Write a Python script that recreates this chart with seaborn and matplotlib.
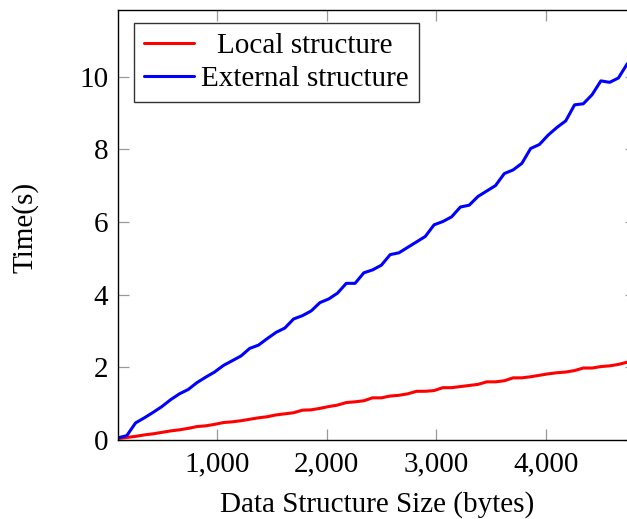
import pandas as pd
import matplotlib
matplotlib.use("Agg")
import matplotlib.pyplot as plt
import seaborn as sns

# Values
sizes = list(range(100, 4741, 80))
local_time = [0.04, 0.07, 0.10, 0.14, 0.17, 0.21, 0.25, 0.28, 0.32, 0.37,
              0.39, 0.43, 0.48, 0.50, 0.53, 0.57, 0.61, 0.64, 0.69, 0.72,
              0.75, 0.82, 0.83, 0.87, 0.92, 0.96, 1.03, 1.05, 1.08, 1.16,
              1.16, 1.21, 1.23, 1.27, 1.34, 1.34, 1.36, 1.44, 1.44, 1.47,
              1.50, 1.53, 1.60, 1.60, 1.63, 1.71, 1.71, 1.74, 1.78, 1.82,
              1.85, 1.87, 1.91, 1.98, 1.98, 2.02, 2.04, 2.08, 2.14]
external_time = [0.06, 0.12, 0.47, 0.61, 0.76, 0.92, 1.11, 1.27, 1.39, 1.58,
                 1.73, 1.87, 2.05, 2.18, 2.31, 2.52, 2.61, 2.79, 2.96, 3.08,
                 3.33, 3.42, 3.55, 3.78, 3.88, 4.04, 4.31, 4.31, 4.60, 4.68,
                 4.81, 5.10, 5.15, 5.30, 5.45, 5.60, 5.92, 6.01, 6.14, 6.41,
                 6.46, 6.70, 6.85, 7.00, 7.33, 7.43, 7.61, 8.02, 8.13, 8.39,
                 8.60, 8.78, 9.22, 9.25, 9.50, 9.88, 9.84, 9.96, 10.35]
series_names = ["Local structure", "External structure"]
colors = {"Local structure": "#ff0000", "External structure": "#0000ff"}
x_ticks = [1000, 2000, 3000, 4000]
y_ticks = [0, 2, 4, 6, 8, 10]

df = pd.concat([
    pd.DataFrame({"Size": sizes, "Time": local_time, "Series": series_names[0]}),
    pd.DataFrame({"Size": sizes, "Time": external_time, "Series": series_names[1]}),
])

sns.set_style("ticks")
plt.rcParams["font.family"] = ["Liberation Serif", "DejaVu Serif"]
plt.rcParams["text.color"] = "black"
plt.rcParams["axes.labelcolor"] = "black"
FS = 21

fig = plt.figure(figsize=(6.27, 5.19), dpi=100)
# axes run slightly past the right edge of the picture, like the reference
ax = fig.add_axes([118 / 627, 79 / 519, 518 / 627, 430 / 519])

sns.lineplot(data=df, x="Size", y="Time", hue="Series", hue_order=series_names,
             palette=colors, linewidth=2.2, ax=ax, legend=False)

ax.set_xlim(100, 4820)
ax.set_ylim(0, 11.83)
ax.set_xticks(x_ticks)
ax.set_xticklabels([f"{v:,}" for v in x_ticks])
ax.set_yticks(y_ticks)

for side in ["left", "right", "top", "bottom"]:
    ax.spines[side].set_visible(True)
    ax.spines[side].set_color("black")
    ax.spines[side].set_linewidth(1.0)

ax.tick_params(direction="in", length=8, width=0.9, color="#999999",
               labelcolor="black", labelsize=FS, top=True, right=True)
ax.tick_params(axis="x", pad=8)
ax.tick_params(axis="y", pad=7)

ax.set_xlabel("Data Structure Size (bytes)", fontsize=FS)
ax.set_ylabel("Time(s)", fontsize=FS)
ax.xaxis.set_label_coords(0.5, -0.118)
ax.yaxis.set_label_coords(-0.153, 0.494)

handles = [plt.Line2D([], [], color=colors[n], linewidth=2.2) for n in series_names]
leg = ax.legend(handles, series_names, loc="upper left",
                bbox_to_anchor=(16 / 518, 1 - 12.7 / 430), borderaxespad=0,
                fontsize=FS, frameon=True, fancybox=False, framealpha=1,
                edgecolor="#333333", handlelength=1.7, handletextpad=0.26,
                borderpad=0.35, labelspacing=0.22)
leg.get_frame().set_linewidth(1.0)

# centre the shorter legend label over the longer one
fig.canvas.draw()
renderer = fig.canvas.get_renderer()
widths = [t.get_window_extent(renderer).width for t in leg.get_texts()]
handle_box = leg.get_children()[0].get_children()[1]
items = handle_box.get_children()[0].get_children()
for item, w in zip(items, widths):
    item.sep += (max(widths) - w) / 2 * 72 / fig.dpi

fig.savefig("out.png", dpi=100)
